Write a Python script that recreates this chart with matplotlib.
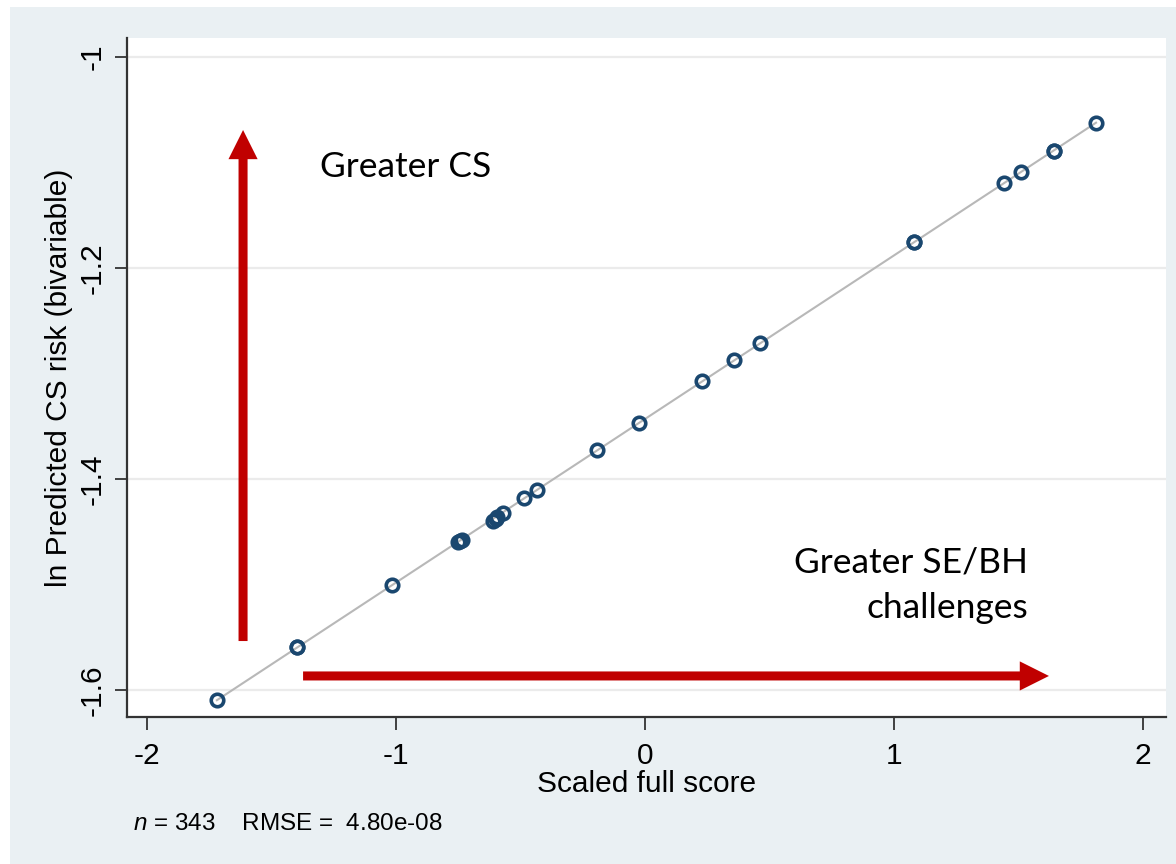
import numpy as np
import matplotlib
matplotlib.use("Agg")
from matplotlib import pyplot as plt
from matplotlib.patches import Rectangle, FancyArrowPatch

plt.rcParams["font.family"] = ["Liberation Sans", "DejaVu Sans"]
plt.rcParams["axes.unicode_minus"] = False
plt.rcParams["mathtext.fontset"] = "custom"
plt.rcParams["mathtext.it"] = "Liberation Sans:italic"
plt.rcParams["mathtext.rm"] = "Liberation Sans"

# scaled full score vs. log predicted risk
score = [-1.719, -1.398, -1.398, -1.016, -0.750, -0.742, -0.735, -0.610, -0.598,
         -0.594, -0.570, -0.486, -0.434, -0.193, -0.024, 0.229, 0.357, 0.462,
         1.080, 1.080, 1.442, 1.510, 1.643, 1.643, 1.811]
ln_risk = [-1.6095, -1.559, -1.559, -1.5005, -1.4595, -1.4585, -1.4575, -1.4395,
           -1.4375, -1.4360, -1.4320, -1.418, -1.410, -1.3725, -1.347, -1.307,
           -1.287, -1.271, -1.175, -1.175, -1.119, -1.109, -1.089, -1.089, -1.0625]

xticks = [-2, -1, 0, 1, 2]
yticks = [-1.6, -1.4, -1.2, -1.0]
ytick_labels = ["-1.6", "-1.4", "-1.2", "-1"]
note = r"$n$ = 343    RMSE =  4.80e-08"

navy = "#1a476f"
red = "#c00000"
bg = "#eaf0f3"

fig = plt.figure(figsize=(11.76, 8.64), dpi=100, facecolor="white")
fig.patches.append(Rectangle((10 / 1176, 0), 1, 1 - 7 / 864, transform=fig.transFigure,
                             facecolor=bg, edgecolor="none", zorder=-10))
ax = fig.add_axes([127 / 1176, 1 - 717 / 864, (1166 - 127) / 1176, (717 - 38) / 864])
ax.set_facecolor("white")

x = np.array(score)
y = np.array(ln_risk)
slope, icpt = np.polyfit(x, y, 1)
xs = np.array([x.min(), x.max()])
ax.plot(xs, icpt + slope * xs, color="#b8b8b8", lw=1.5, zorder=2)
ax.plot(x, y, "o", ms=9, mfc="none", mec=navy, mew=2.6, zorder=3)

ax.set_xlim(-2.08, 2.092)
ax.set_ylim(-1.6256, -0.982)
ax.set_xticks(xticks)
ax.set_yticks(yticks)
ax.set_yticklabels(ytick_labels, rotation=90, va="center")
ax.grid(axis="y", color="#ebebeb", lw=1.6)
ax.set_axisbelow(True)
for s in ["top", "right"]:
    ax.spines[s].set_visible(False)
for s in ["left", "bottom"]:
    ax.spines[s].set_color("#333333")
    ax.spines[s].set_linewidth(1.6)
ax.tick_params(axis="both", labelsize=21.5, length=9, width=1.3, color="#333333")
ax.tick_params(axis="x", pad=9)
ax.tick_params(axis="y", pad=6)
ax.set_xlabel("Scaled full score", fontsize=21.5, labelpad=0)
ax.set_ylabel("ln Predicted CS risk (bivariable)", fontsize=21.5, labelpad=4)

# direction arrows
for a, b in [((-1.614, -1.5536), (-1.614, -1.0692)), ((-1.373, -1.5867), (1.622, -1.5867))]:
    arr = FancyArrowPatch(a, b, arrowstyle="simple,head_length=21,head_width=21,tail_width=6.5",
                          mutation_scale=1, shrinkA=0, shrinkB=0, color=red, lw=0, zorder=4)
    ax.add_patch(arr)

ax.text(-1.305, -1.1137, "Greater CS", fontsize=25.5, family="Lato", va="baseline", ha="left")
ax.text(1.538, -1.4882, "Greater SE/BH", fontsize=25.5, family="Lato", va="baseline", ha="right")
ax.text(1.538, -1.5318, "challenges", fontsize=25.5, family="Lato", va="baseline", ha="right")

fig.text(133 / 1176, 1 - 830 / 864, note, fontsize=17.5, va="baseline", ha="left")

fig.savefig("out.png", dpi=100, facecolor=fig.get_facecolor())
